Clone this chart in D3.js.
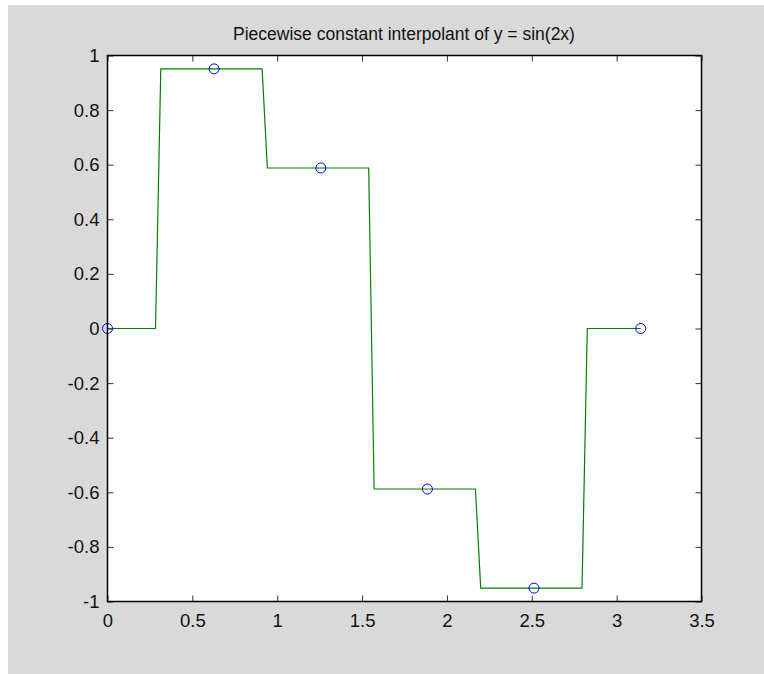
<!DOCTYPE html>
<html><head><meta charset="utf-8">
<script src="https://cdn.jsdelivr.net/npm/d3@7"></script>
<style>body{margin:0;background:#fff}svg{display:block}text{font-family:"Liberation Sans",Arial,sans-serif;fill:#111}</style>
</head><body><svg id="c" width="764" height="674"></svg>
<script>
const title = "Piecewise constant interpolant of y = sin(2x)";
// sample points (blue circles)
const pointX = [0, 0.628, 1.257, 1.885, 2.513, 3.142];
const pointY = [0, 0.951, 0.588, -0.588, -0.951, 0];
// piecewise-constant interpolant vertices (green line)
const stepX = [0, 0.283, 0.314, 0.911, 0.942, 1.539, 1.571, 2.168, 2.199, 2.796, 2.827, 3.142];
const stepY = [0, 0, 0.951, 0.951, 0.588, 0.588, -0.588, -0.588, -0.951, -0.951, 0, 0];
const xTicks = [0, 0.5, 1, 1.5, 2, 2.5, 3, 3.5];
const xTickLabels = ["0", "0.5", "1", "1.5", "2", "2.5", "3", "3.5"];
const yTicks = [-1, -0.8, -0.6, -0.4, -0.2, 0, 0.2, 0.4, 0.6, 0.8, 1];
const yTickLabels = ["-1", "-0.8", "-0.6", "-0.4", "-0.2", "0", "0.2", "0.4", "0.6", "0.8", "1"];

const svg = d3.select("#c");
svg.append("rect").attr("x", 8).attr("y", 5).attr("width", 756).attr("height", 669).attr("fill", "#d9d9d9");

const L = 107.5, R = 701.5, T = 55.5, B = 601.5;
const x = d3.scaleLinear().domain([0, 3.5]).range([L, R]);
const y = d3.scaleLinear().domain([-1, 1]).range([B, T]);

svg.append("rect").attr("x", L).attr("y", T).attr("width", R - L).attr("height", B - T).attr("fill", "#fff");

const tl = 6;
const fmtX = (d, i) => xTickLabels[i];
const fmtY = (d, i) => yTickLabels[i];
const gB = svg.append("g").attr("transform", `translate(0,${B})`)
  .call(d3.axisBottom(x).tickValues(xTicks).tickFormat(fmtX).tickSizeInner(-tl).tickSizeOuter(0).tickPadding(12));
const gT = svg.append("g").attr("transform", `translate(0,${T})`)
  .call(d3.axisTop(x).tickValues(xTicks).tickFormat("").tickSizeInner(-tl).tickSizeOuter(0));
const gL = svg.append("g").attr("transform", `translate(${L},0)`)
  .call(d3.axisLeft(y).tickValues(yTicks).tickFormat(fmtY).tickSizeInner(-tl).tickSizeOuter(0).tickPadding(8));
const gR = svg.append("g").attr("transform", `translate(${R},0)`)
  .call(d3.axisRight(y).tickValues(yTicks).tickFormat("").tickSizeInner(-tl).tickSizeOuter(0));
[gB, gT, gL, gR].forEach(g => {
  g.select(".domain").remove();
  g.selectAll(".tick line").attr("stroke", "#333").attr("stroke-width", 1);
  g.selectAll("text").attr("font-size", 18.5).attr("fill", "#111").attr("font-family", "Liberation Sans, Arial, sans-serif");
});

const line = d3.line().x(d => x(d[0])).y(d => y(d[1]));
svg.append("path").datum(stepX.map((v, i) => [v, stepY[i]]))
  .attr("d", line).attr("fill", "none").attr("stroke", "#008000").attr("stroke-width", 1.2);

svg.append("g").selectAll("circle").data(pointX).join("circle")
  .attr("cx", d => x(d)).attr("cy", (d, i) => y(pointY[i])).attr("r", 5)
  .attr("fill", "none").attr("stroke", "#0000ff").attr("stroke-width", 1);

svg.append("rect").attr("x", L).attr("y", T).attr("width", R - L).attr("height", B - T)
  .attr("fill", "none").attr("stroke", "#000").attr("stroke-width", 1.5);

svg.append("text").attr("x", 404).attr("y", 40).attr("text-anchor", "middle")
  .attr("font-size", 17.5).text(title);
</script></body></html>
